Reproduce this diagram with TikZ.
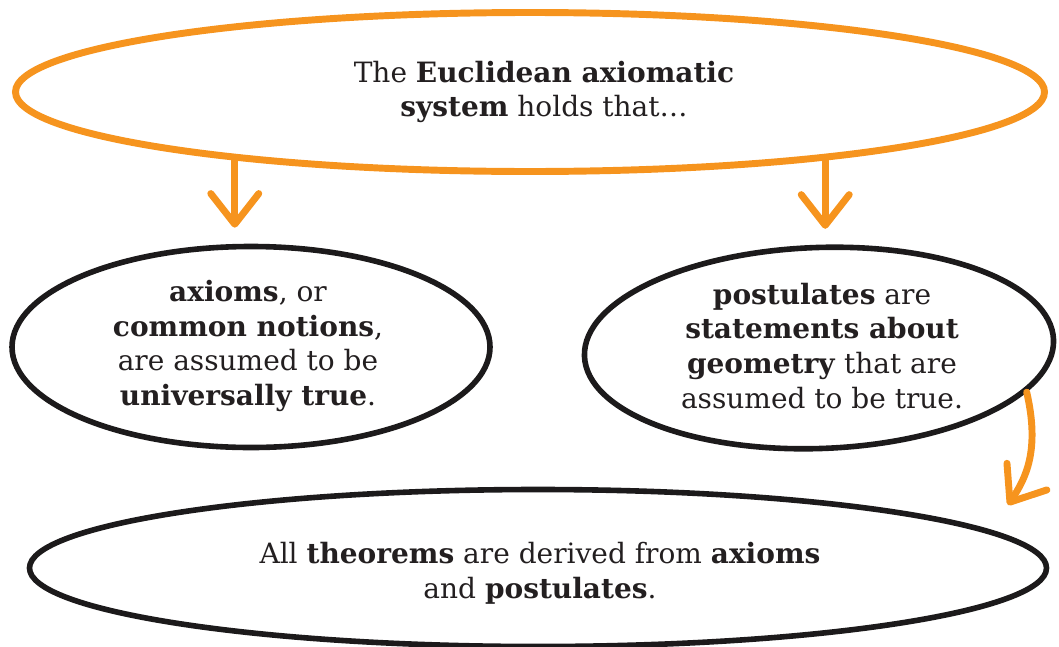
\documentclass[tikz,border=0pt]{standalone}
\usepackage{fontspec}
\setmainfont{DejaVu Serif}
\usetikzlibrary{shapes.geometric,arrows.meta}
\definecolor{orng}{RGB}{246,148,30}
\definecolor{ink}{RGB}{28,26,27}
\definecolor{txtc}{RGB}{35,31,32}
\tikzset{
  bubble/.style={ellipse, draw=ink, line width=4.2pt, inner sep=0pt},
  topbubble/.style={ellipse, draw=orng, line width=5.2pt, inner sep=0pt},
  txt/.style={align=center, text=txtc, font=\fontsize{21}{26.2}\selectfont, inner sep=0pt},
  arr/.style={draw=orng, line width=5.2pt, line cap=round, line join=round,
    -{Straight Barb[length=23pt, width=36pt, line cap=round, line join=round]}}
}
\begin{document}
\begin{tikzpicture}[x=0.75pt,y=-0.75pt]
\useasboundingbox (0,0) rectangle (1059,646);
% bubbles
\node[topbubble, minimum width=771.75pt, minimum height=119.25pt] (top) at (530,92) {};
\node[bubble, minimum width=358.5pt, minimum height=150.75pt] (left) at (251,347) {};
\node[bubble, minimum width=352pt, minimum height=150.75pt, rotate=2] (right) at (819,348) {};
\node[bubble, minimum width=762.75pt, minimum height=117.75pt] (bottom) at (538,568) {};
% texts
\node[txt] (topT) at (544,92) {The \textbf{Euclidean axiomatic}\\\textbf{system} holds that\ldots};
\node[txt] (leftT) at (248,346) {\textbf{axioms}, or\\\textbf{common notions},\\are assumed to be\\\textbf{universally true}.};
\node[txt] (rightT) at (822,346) {\textbf{postulates} are\\\textbf{statements about}\\\textbf{geometry} that are\\assumed to be true.};
\node[txt] (bottomT) at (540,573) {All \textbf{theorems} are derived from \textbf{axioms}\\and \textbf{postulates}.};
% arrows
\draw[arr, shorten >=12pt] (top.193.5) -- (top.193.5 |- left.north);
\draw[arr, shorten >=12pt] (top.347.7) -- (top.347.7 |- right.north);
\coordinate (tipc) at (1008,505);
\draw[arr] (right.-14) .. controls (1040,450) and (1026,478) .. (tipc);
\end{tikzpicture}
\end{document}
